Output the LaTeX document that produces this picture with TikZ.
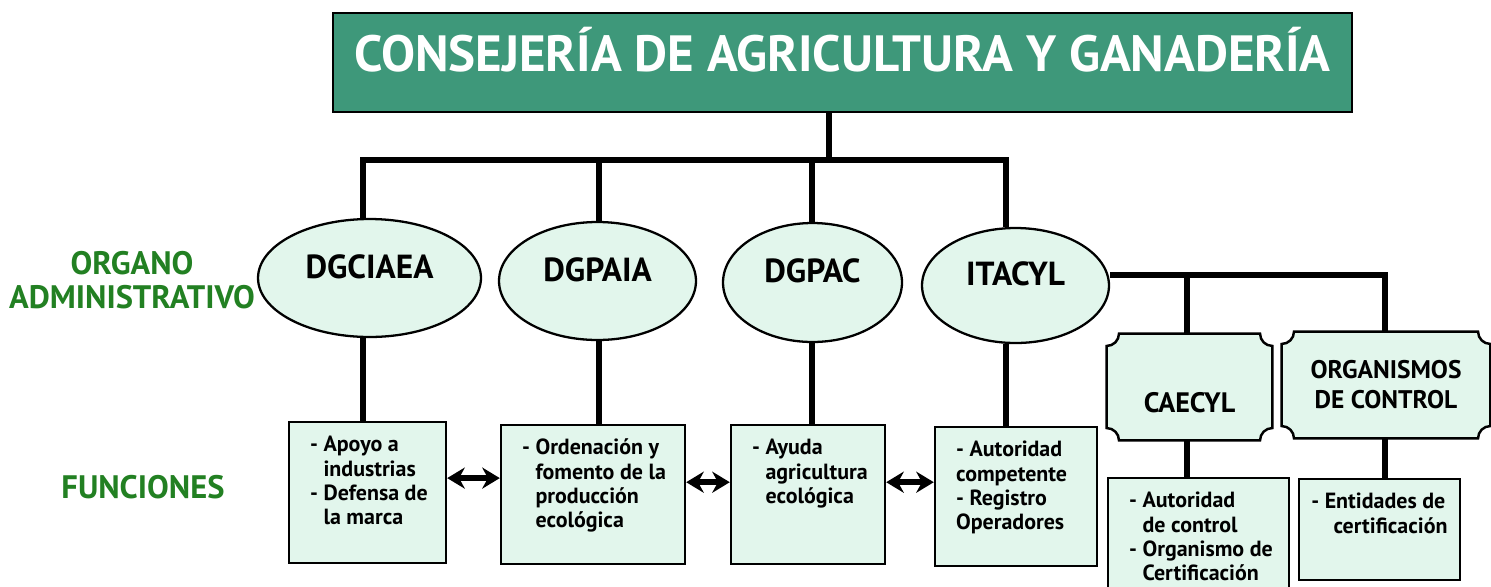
\documentclass[tikz,border=0pt]{standalone}
\usepackage{fontspec}
\setmainfont{PT Sans}
\usetikzlibrary{shapes.geometric,arrows.meta,backgrounds}
\definecolor{headgreen}{RGB}{62,152,122}
\definecolor{mint}{RGB}{226,246,236}
\definecolor{labelgreen}{RGB}{34,128,34}
\newcommand\ftxt[3]{\parbox[c][#2][t]{#1}{\leftskip=12pt\rightskip=0pt plus 1fil\rule{0pt}{17pt}#3}}
\newcommand\notchframe[1]{%
\begin{pgfonlayer}{background}
\draw[line width=1.4pt, fill=mint]
  ([xshift=7pt]#1.north west) -- ([xshift=-7pt]#1.north east)
  arc[start angle=180, end angle=270, radius=7pt]
  -- ([yshift=7pt]#1.south east)
  arc[start angle=90, end angle=180, radius=7pt]
  -- ([xshift=7pt]#1.south west)
  arc[start angle=0, end angle=90, radius=7pt]
  -- ([yshift=-7pt]#1.north west)
  arc[start angle=270, end angle=360, radius=7pt] -- cycle;
\end{pgfonlayer}}
\begin{document}
\begin{tikzpicture}[x=0.02cm, y=-0.02cm,
  wire/.style={line width=3pt},
  link/.style={line width=3.2pt, {Stealth[length=10pt,width=12pt]}-{Stealth[length=10pt,width=12pt]}},
  head/.style={draw, line width=1.4pt, fill=headgreen, text=white, inner sep=0pt,
    minimum width=20.38cm, minimum height=1.98cm, text height=21pt, text depth=10.4pt,
    font=\fontsize{29}{33}\selectfont\bfseries},
  org/.style={ellipse, draw, line width=1.3pt, fill=mint, inner sep=0pt,
    text height=12.5pt, text depth=12.5pt, font=\fontsize{19}{21}\selectfont\bfseries},
  func/.style={draw, line width=1.4pt, fill=mint, inner sep=0pt,
    font=\fontsize{12.5}{13.8}\selectfont\bfseries},
  ctrl/.style={inner sep=0pt, align=center, minimum height=2.12cm,
    font=\fontsize{16}{18.5}\selectfont\bfseries},
  side/.style={text=labelgreen, align=center, font=\fontsize{18.5}{19}\selectfont\bfseries}]
\useasboundingbox (0,0) rectangle (1491,586);
\clip (0,0) rectangle (1491,586);

\node[head] (t) at (842.5,62.5) {CONSEJERÍA DE AGRICULTURA Y GANADERÍA};

\node[org, minimum width=4.46cm, minimum height=2.36cm] (e1) at (369.5,278) {DGCIAEA};
\node[org, minimum width=3.94cm, minimum height=2.36cm] (e2) at (597.5,281) {DGPAIA};
\node[org, minimum width=3.58cm, minimum height=2.38cm] (e3) at (812.5,282.5) {DGPAC};
\node[org, minimum width=3.74cm, minimum height=2.30cm] (e4) at (1015.5,285.5) {ITACYL};

\coordinate (j) at (829,160);
\coordinate (j1) at (363,160);
\coordinate (j2) at (599,160);
\coordinate (j3) at (812,160);
\coordinate (j4) at (1006,160);
\draw[wire] (t.south -| j) -- (j);
\draw[wire] (j1 |- e1.north) -- (j1) -- (j4) -- (j4 |- e4.north);
\draw[wire] (j2) -- (j2 |- e2.north);
\draw[wire] (j3) -- (j3 |- e3.north);

\node[func] (b1) at (367.5,492.5) {\ftxt{3.14cm}{2.82cm}{- Apoyo a\\\phantom{- }industrias\\- Defensa de\\\phantom{- }la marca}};
\node[func] (b2) at (593,494.5) {\ftxt{3.68cm}{2.78cm}{- Ordenación y\\\phantom{- }fomento de la\\\phantom{- }producción\\\phantom{- }ecológica}};
\node[func] (b3) at (808,494.5) {\ftxt{3.08cm}{2.78cm}{- Ayuda\\\phantom{- }agricultura\\\phantom{- }ecológica}};
\node[func] (b4) at (1016,496.5) {\ftxt{3.24cm}{2.78cm}{- Autoridad\\competente\\- Registro\\Operadores}};
\draw[wire] (e1.south -| j1) -- (b1.north -| j1);
\draw[wire] (e2.south -| j2) -- (b2.north -| j2);
\draw[wire] (e3.south -| j3) -- (b3.north -| j3);
\draw[wire] (e4.south -| j4) -- (b4.north -| j4);
\draw[link] ([yshift=8.2pt]b1.east) -- ([yshift=8.2pt]b1.east -| b2.west);
\draw[link] ([yshift=7pt]b2.east) -- ([yshift=7pt]b2.east -| b3.west);
\draw[link] ([yshift=7pt]b3.east) -- ([yshift=7pt]b3.east -| b4.west);

\node[ctrl, minimum width=3.3cm, text height=30pt, text depth=0.6pt] (c) at (1189.5,387) {CAECYL};
\node[ctrl, minimum width=4.16cm, font=\fontsize{14.5}{17}\selectfont\bfseries] (o) at (1386,385) {ORGANISMOS\\DE CONTROL};
\notchframe{c}
\notchframe{o}
\coordinate (k1) at (1187,275);
\coordinate (k2) at (1385,275);
\draw[wire] (k2 -| e4.east) -- (k2) -- (k2 |- o.north);
\draw[wire] (k1) -- (k1 |- c.north);

\node[func] (b5) at (1198.5,544) {\ftxt{3.62cm}{2.64cm}{- Autoridad\\\phantom{- }de control\\- Organismo de\\\phantom{- }Certificación}};
\node[func] (b6) at (1379.5,529.5) {\ftxt{3.22cm}{2.02cm}{\hspace*{-5pt}- Entidades de\\\phantom{- }certificación}};
\draw[wire] (c.south -| k1) -- (b5.north -| k1);
\draw[wire] (o.south -| k2) -- (b6.north -| k2);

\node[side] (lo) at (132,280) {ORGANO\\ADMINISTRATIVO};
\node[side] (lf) at (143,487) {FUNCIONES};
\end{tikzpicture}
\end{document}
